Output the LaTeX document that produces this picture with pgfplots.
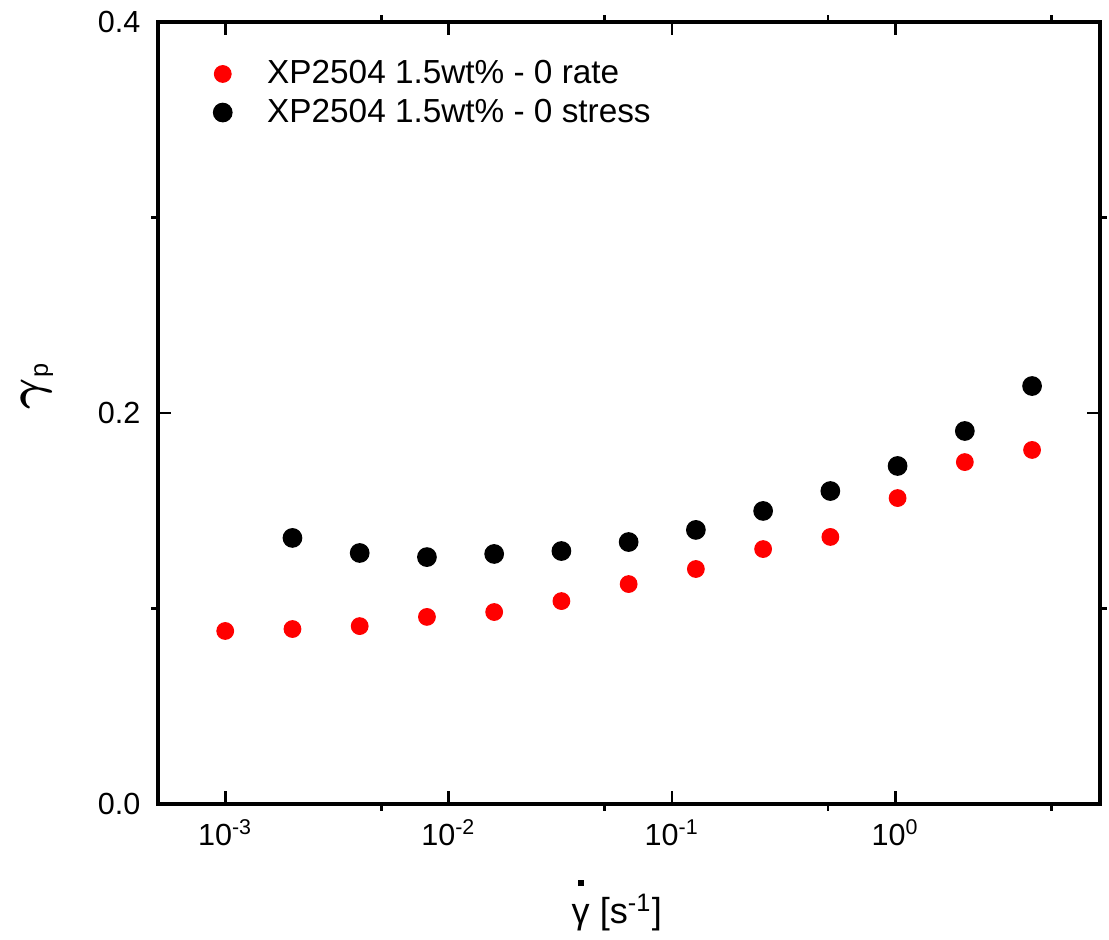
\documentclass[border=0pt]{standalone}
\usepackage{pgfplots}
\pgfplotsset{compat=1.18}
\usepackage{fontspec}
\setmainfont{Liberation Sans}
\definecolor{myred}{RGB}{255,0,0}
\begin{document}
\begin{tikzpicture}
\path[use as bounding box] (-56.88pt,-48.6pt) rectangle (342.36pt,289.44pt);
\begin{axis}[
  at={(0,0)}, anchor=south west,
  scale only axis, width=339.12pt, height=281.52pt,
  xmode=log, xmin=5e-4, xmax=8.25, ymin=0, ymax=0.4,
  axis line style={line width=1.1pt},
  every tick/.style={line width=1pt, black},
  tick align=inside, major tick length=4.7pt,
  xtick pos=both, ytick pos=both,
  xticklabel pos=lower, yticklabel pos=left,
  xtick={0.001,0.01,0.1,1},
  xticklabels={10\textsuperscript{-3},10\textsuperscript{-2},10\textsuperscript{-1},10\textsuperscript{0}},
  ytick={0,0.2,0.4},
  yticklabels={0.0,0.2,0.4},
  xminorticks=false, yminorticks=false,
  extra x ticks={0.005,0.05,0.5,5},
  extra x tick labels={},
  extra x tick style={tick align=outside, major tick length=2.5pt},
  extra y ticks={0.1,0.3},
  extra y tick labels={},
  extra y tick style={tick align=outside, major tick length=2.5pt},
  tick label style={font=\fontsize{11}{13}\selectfont},
  xticklabel style={yshift=-2pt},
  yticklabel style={xshift=-2.8pt},
  xlabel={{\setbox0\hbox{γ}\rlap{\hbox to \wd0{\hss\raisebox{1.05em}{\rule{0.17em}{0.17em}}\hss}}\box0} [s\textsuperscript{-1}]},
  ylabel={{\fontsize{18}{20}\selectfont\boldmath$\gamma$}\textsubscript{p}},
  label style={font=\fontsize{13}{15}\selectfont},
  xlabel style={at={(axis description cs:0.487,-0.13)}, anchor=center},
  ylabel style={at={(axis description cs:-0.128,0.535)}, anchor=center},
  legend style={draw=none, fill=none, at={(axis description cs:0.049,0.966)}, anchor=north west,
    font=\fontsize{12}{14}\selectfont, row sep=0pt},
  legend image code/.code={\path[draw=none] (-3.5pt,0pt) -- (14pt,0pt); \draw[#1] plot coordinates {(0pt,0pt)};},
  legend cell align=left,
]
\addplot[only marks, mark=*, mark size=3pt, color=myred, mark options={draw=myred, fill=myred}] coordinates {
(0.001,0.0885) (0.002,0.0895) (0.004,0.0910) (0.008,0.0957) (0.016,0.0982)
(0.032,0.1038) (0.064,0.1125) (0.128,0.1202) (0.256,0.1304) (0.512,0.1366)
(1.024,0.1565) (2.048,0.1749) (4.096,0.1811)
};
\addlegendentry{XP2504 1.5wt\% - 0 rate}
\addplot[only marks, mark=*, mark size=3.35pt, color=black, mark options={draw=black, fill=black}] coordinates {
(0.002,0.1361) (0.004,0.1284) (0.008,0.1263) (0.016,0.1279) (0.032,0.1294)
(0.064,0.1340) (0.128,0.1402) (0.256,0.1499) (0.512,0.1601) (1.024,0.1729)
(2.048,0.1908) (4.096,0.2138)
};
\addlegendentry{XP2504 1.5wt\% - 0 stress}
\end{axis}
\end{tikzpicture}
\end{document}
